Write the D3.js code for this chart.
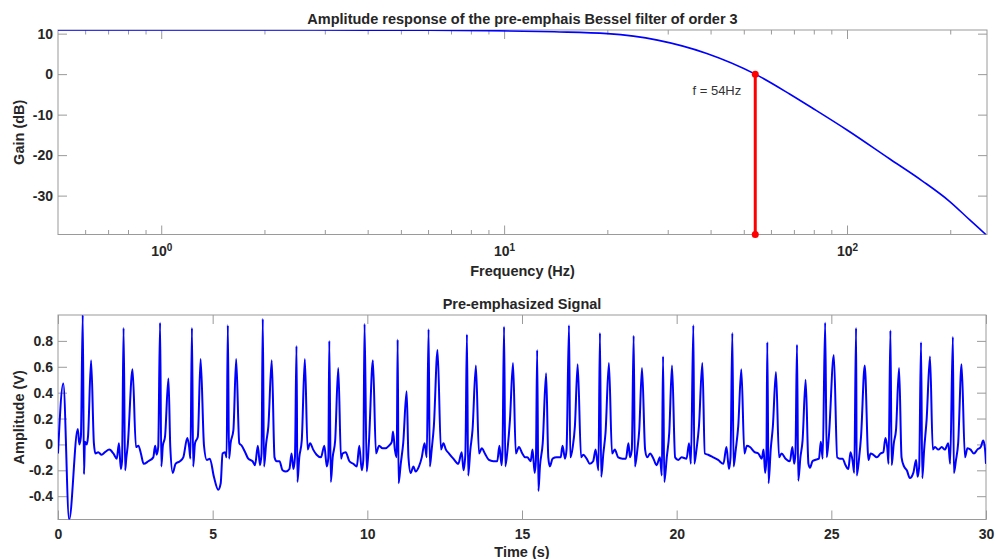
<!DOCTYPE html>
<html>
<head>
<meta charset="utf-8">
<script src="https://cdn.jsdelivr.net/npm/d3@7/dist/d3.min.js"></script>
<style>
  body { margin: 0; background: #fff; }
  svg text { font-family: "Liberation Sans", Arial, Helvetica, sans-serif; }
</style>
</head>
<body>
<div class="chart"></div>
<script>
// ---- data ----
var freqHz = [0.5, 1, 2, 4, 6, 9, 14, 20, 28, 39, 54, 68, 80, 100, 133, 166, 199, 228, 245, 254];
var gainDb = [10.9, 10.9, 10.9, 10.88, 10.85, 10.75, 10.45, 10.0, 8.4, 5.1, 0, -4.9, -8.6, -13.8, -20.9, -26.4, -31.4, -36.0, -38.4, -39.6];
var cutoffHz = 54;
var cutoffLabel = "f = 54Hz";

var timeS = [
  0, 0.17, 0.36, 0.64, 0.69, 0.74, 0.80, 0.84, 0.87, 0.93, 0.97, 1.07, 1.16, 1.21, 1.30, 1.41, 1.52, 1.66, 1.79, 1.90, 1.97, 2.03, 2.07,
  2.12, 2.17, 2.21, 2.25, 2.41, 2.52, 2.60, 2.68, 2.77, 2.92, 3.08, 3.14, 3.19, 3.24,
  3.30, 3.34, 3.39, 3.46, 3.57, 3.63, 3.71, 3.80, 3.94, 4.05, 4.18, 4.24, 4.28,
  4.33, 4.37, 4.43, 4.52, 4.61, 4.72, 4.81, 4.91, 5.04, 5.18, 5.26, 5.32, 5.40, 5.45,
  5.49, 5.53, 5.58, 5.67, 5.76, 5.86, 5.94, 6.05, 6.15, 6.29, 6.37, 6.46, 6.53, 6.58,
  6.62, 6.66, 6.73, 6.80, 6.91, 7.00, 7.07, 7.16, 7.26, 7.37, 7.48, 7.55, 7.61, 7.66,
  7.71, 7.74, 7.80, 7.88, 7.98, 8.07, 8.15, 8.25, 8.36, 8.50, 8.61, 8.69, 8.74,
  8.77, 8.82, 8.88, 8.96, 9.06, 9.15, 9.20, 9.30, 9.42, 9.55, 9.66, 9.74, 9.82, 9.87,
  9.91, 9.98, 10.05, 10.18, 10.28, 10.38, 10.49, 10.59, 10.70, 10.79, 10.83, 10.89, 10.95,
  10.98, 11.01, 11.08, 11.16, 11.27, 11.33, 11.40, 11.49, 11.56, 11.67, 11.76, 11.85, 11.92,
  11.98, 12.02, 12.08, 12.15, 12.27, 12.38, 12.46, 12.54, 12.64, 12.78, 12.94, 13.05, 13.11, 13.17,
  13.22, 13.26, 13.33, 13.40, 13.51, 13.61, 13.70, 13.80, 13.93, 14.07, 14.20, 14.27, 14.34, 14.37,
  14.42, 14.46, 14.54, 14.61, 14.71, 14.80, 14.90, 15.01, 15.10, 15.17, 15.28, 15.34, 15.41, 15.45,
  15.49, 15.53, 15.58, 15.67, 15.78, 15.85, 15.90, 15.99, 16.12, 16.25, 16.31, 16.39, 16.44,
  16.52, 16.56, 16.64, 16.71, 16.80, 16.91, 16.98, 17.09, 17.19, 17.30, 17.38, 17.47,
  17.52, 17.56, 17.63, 17.70, 17.81, 17.91, 18.00, 18.11, 18.25, 18.36, 18.44, 18.49, 18.55,
  18.61, 18.65, 18.73, 18.79, 18.88, 18.98, 19.05, 19.14, 19.25, 19.35, 19.46, 19.52,
  19.56, 19.60, 19.68, 19.76, 19.85, 19.95, 20.05, 20.16, 20.32, 20.40, 20.46,
  20.54, 20.57, 20.64, 20.72, 20.83, 20.91, 21.02, 21.18, 21.34, 21.51, 21.61, 21.69, 21.74,
  21.80, 21.84, 21.91, 21.99, 22.09, 22.19, 22.27, 22.37, 22.52, 22.64, 22.75, 22.81, 22.86, 22.90,
  22.93, 22.97, 23.04, 23.11, 23.21, 23.31, 23.39, 23.52, 23.66, 23.74, 23.80, 23.84,
  23.89, 23.93, 24.00, 24.07, 24.17, 24.26, 24.31, 24.39, 24.47, 24.60, 24.66, 24.72,
  24.80, 24.85, 24.92, 25.08, 25.19, 25.28, 25.37, 25.44, 25.55, 25.62, 25.69, 25.74,
  25.80, 25.82, 25.90, 25.96, 26.08, 26.20, 26.27, 26.36, 26.47, 26.59, 26.68, 26.75, 26.81, 26.85,
  26.91, 26.95, 27.02, 27.09, 27.19, 27.27, 27.35, 27.44, 27.54, 27.65, 27.74, 27.79, 27.84,
  27.90, 27.94, 28.00, 28.08, 28.19, 28.28, 28.35, 28.46, 28.57, 28.67, 28.78, 28.84,
  28.93, 28.96, 29.03, 29.10, 29.21, 29.32, 29.40, 29.50, 29.61, 29.72, 29.83, 29.91, 29.97, 30.0
];
var ampV = [
  -0.07, 0.47, -0.58, 0.12, 0.0, 0.06, 1.0, -0.23, 0.02, 0.0, 0.06, 0.65, 0.01, -0.07, -0.06, -0.08, -0.06, -0.04, -0.07, -0.11, 0.01, -0.19, -0.13,
  0.90, -0.20, -0.10, -0.02, 0.58, -0.02, -0.01, -0.07, -0.15, -0.13, -0.10, -0.01, -0.08, -0.02,
  0.94, -0.17, -0.01, 0.06, 0.51, -0.02, -0.22, -0.15, -0.13, -0.10, 0.05, -0.02, -0.11,
  0.90, -0.17, 0.01, 0.06, 0.66, -0.01, -0.12, -0.11, -0.25, -0.35, -0.30, -0.07, -0.06, -0.10,
  0.92, -0.11, 0.01, 0.11, 0.66, 0.01, -0.01, -0.06, -0.11, -0.13, -0.16, -0.01, -0.16, -0.07,
  0.97, -0.17, 0.01, 0.14, 0.65, -0.10, -0.13, -0.13, -0.20, -0.21, -0.19, -0.07, -0.19, -0.10,
  0.76, -0.29, -0.10, 0.03, 0.66, -0.04, 0.01, -0.04, -0.08, -0.10, -0.01, -0.17, -0.10,
  0.80, -0.29, -0.10, 0.03, 0.59, -0.11, -0.07, -0.06, -0.13, -0.15, -0.17, -0.01, -0.20, -0.12,
  0.93, -0.21, 0.01, 0.65, -0.07, -0.01, -0.03, -0.03, -0.01, 0.02, 0.10, -0.04, -0.10,
  0.81, -0.30, -0.15, 0.01, 0.41, -0.10, -0.22, -0.17, -0.21, -0.17, -0.10, 0.01, -0.10,
  0.89, -0.17, -0.04, 0.14, 0.73, -0.04, 0.01, -0.04, -0.07, -0.11, -0.15, -0.06, -0.20, -0.07,
  0.85, -0.24, -0.04, 0.11, 0.61, -0.07, -0.03, -0.07, -0.12, -0.13, -0.13, -0.01, -0.16, -0.04,
  0.91, -0.17, -0.02, 0.19, 0.63, -0.07, -0.02, -0.07, -0.10, -0.10, -0.13, -0.04, -0.22, -0.12,
  0.73, -0.36, -0.17, 0.01, 0.55, -0.10, -0.17, -0.11, -0.10, -0.10, -0.01, -0.11, -0.04,
  0.92, -0.10, -0.02, 0.14, 0.62, -0.10, -0.08, -0.11, -0.15, -0.13, -0.04, -0.20,
  0.86, -0.25, -0.07, 0.09, 0.63, -0.07, -0.04, -0.10, -0.11, -0.11, 0.01, -0.10, -0.04,
  0.84, -0.17, -0.04, 0.11, 0.59, -0.04, -0.10, -0.07, -0.11, -0.16, -0.10, -0.24,
  0.68, -0.29, -0.10, 0.09, 0.61, -0.10, -0.12, -0.10, -0.11, 0.01, -0.15,
  0.92, -0.15, -0.04, 0.14, 0.63, -0.07, -0.08, -0.10, -0.12, -0.15, -0.02, -0.19, -0.10,
  0.86, -0.17, -0.04, 0.14, 0.58, -0.07, -0.01, -0.02, -0.06, -0.07, -0.11, -0.04, -0.22, -0.12,
  0.79, -0.30, -0.04, 0.14, 0.56, -0.10, -0.07, -0.11, -0.13, -0.02, -0.15, -0.07,
  0.77, -0.28, -0.10, 0.03, 0.50, -0.15, -0.18, -0.13, -0.12, -0.11, 0.02, -0.11,
  0.94, -0.10, 0.06, 0.69, -0.10, -0.11, -0.11, -0.15, -0.19, -0.06, -0.13, -0.22,
  0.90, -0.24, -0.10, 0.06, 0.61, -0.12, -0.07, -0.08, -0.10, -0.07, -0.06, 0.05, -0.03, -0.15,
  0.88, -0.16, 0.01, 0.11, 0.59, -0.10, -0.17, -0.20, -0.26, -0.22, -0.12, -0.25, -0.17,
  0.79, -0.26, -0.04, 0.19, 0.68, -0.04, -0.02, -0.04, -0.02, -0.04, 0.01, -0.15,
  0.83, -0.22, -0.12, 0.01, 0.62, -0.10, -0.03, -0.04, -0.07, -0.04, -0.02, 0.03, -0.04, -0.15
];

var freqMajor = [1, 10, 100];
var freqMinor = [0.6, 0.7, 0.8, 0.9, 2, 3, 4, 5, 6, 7, 8, 9, 20, 30, 40, 50, 60, 70, 80, 90, 200];
var gainTicks = [10, 0, -10, -20, -30];
var timeTicks = [0, 5, 10, 15, 20, 25, 30];
var ampTicks = [-0.4, -0.2, 0, 0.2, 0.4, 0.6, 0.8];

var axisCol = "#9a9a9a", textCol = "#262626", lineCol = "#0000ff";
var tickFont = 14, labelFont = 14.5;

var svg = d3.select(".chart").append("svg")
  .attr("width", 998)
  .attr("height", 559);

// MATLAB look: inward ticks, bold labels, hyphen minus
function styleAxis(a) {
  a.select(".domain").remove();
  a.selectAll("line").attr("stroke", axisCol);
  a.selectAll("text")
    .attr("fill", textCol)
    .attr("font-size", tickFont)
    .attr("font-weight", "bold")
    .attr("font-family", null);
  return a;
}
function plain(d) { return String(d); }

// ---------- top panel: amplitude response ----------
var w1 = 929, h1 = 204.5;
var g1 = svg.append("g").attr("transform", "translate(58,30)");

var x1 = d3.scaleLog().domain([0.5, 256]).range([0, w1]);
var y1 = d3.scaleLinear().domain([-39.6, 10.9]).range([h1, 0]);

g1.append("clipPath").attr("id", "clip1")
  .append("rect").attr("width", w1).attr("height", h1);

styleAxis(g1.append("g").attr("transform", "translate(0," + h1 + ")")
  .call(d3.axisBottom(x1).tickValues(freqMinor).tickSizeInner(-4.5).tickSizeOuter(0).tickFormat("")));
styleAxis(g1.append("g")
  .call(d3.axisTop(x1).tickValues(freqMinor).tickSizeInner(-4.5).tickSizeOuter(0).tickFormat("")));

var xa1 = styleAxis(g1.append("g").attr("transform", "translate(0," + h1 + ")")
  .call(d3.axisBottom(x1).tickValues(freqMajor).tickSizeInner(-9).tickSizeOuter(0).tickPadding(12)
    .tickFormat(function () { return "10"; })));
xa1.selectAll(".tick text").each(function (d) {
  d3.select(this).append("tspan")
    .attr("dy", "-0.5em")
    .attr("font-size", 10)
    .text(Math.round(Math.log10(d)));
});
styleAxis(g1.append("g")
  .call(d3.axisTop(x1).tickValues(freqMajor).tickSizeInner(-9).tickSizeOuter(0).tickFormat("")));
styleAxis(g1.append("g")
  .call(d3.axisLeft(y1).tickValues(gainTicks).tickSizeInner(-9).tickSizeOuter(0).tickPadding(5).tickFormat(plain)));
styleAxis(g1.append("g").attr("transform", "translate(" + w1 + ",0)")
  .call(d3.axisRight(y1).tickValues(gainTicks).tickSizeInner(-9).tickSizeOuter(0).tickFormat("")));

g1.append("rect")
  .attr("width", w1).attr("height", h1)
  .attr("fill", "none").attr("stroke", axisCol).attr("stroke-width", 1);

var resp = freqHz.map(function (f, i) { return [f, gainDb[i]]; });
g1.append("path")
  .datum(resp)
  .attr("clip-path", "url(#clip1)")
  .attr("fill", "none")
  .attr("stroke", lineCol)
  .attr("stroke-width", 1.6)
  .attr("d", d3.line()
    .x(function (d) { return x1(d[0]); })
    .y(function (d) { return y1(d[1]); })
    .curve(d3.curveMonotoneX));

// cutoff marker
g1.append("line")
  .attr("x1", x1(cutoffHz)).attr("x2", x1(cutoffHz))
  .attr("y1", y1(0)).attr("y2", y1(y1.domain()[0]))
  .attr("stroke", "#ff0000").attr("stroke-width", 3);
g1.selectAll(".cut").data([0, y1.domain()[0]]).enter().append("circle")
  .attr("cx", x1(cutoffHz)).attr("cy", function (d) { return y1(d); })
  .attr("r", 3.5).attr("fill", "#ff0000");
g1.append("text")
  .attr("x", x1(cutoffHz) - 14)
  .attr("y", y1(-4.1))
  .attr("dy", "0.35em")
  .attr("text-anchor", "end")
  .attr("font-size", 13)
  .attr("fill", "#333")
  .text(cutoffLabel);

g1.append("text")
  .attr("x", w1 / 2).attr("y", -6)
  .attr("text-anchor", "middle")
  .attr("font-size", labelFont).attr("font-weight", "bold").attr("fill", textCol)
  .text("Amplitude response of the pre-emphais Bessel filter of order 3");
g1.append("text")
  .attr("x", w1 / 2).attr("y", h1 + 41)
  .attr("text-anchor", "middle")
  .attr("font-size", labelFont).attr("font-weight", "bold").attr("fill", textCol)
  .text("Frequency (Hz)");
g1.append("text")
  .attr("transform", "translate(-34," + (h1 / 2) + ") rotate(-90)")
  .attr("text-anchor", "middle")
  .attr("font-size", labelFont).attr("font-weight", "bold").attr("fill", textCol)
  .text("Gain (dB)");

// ---------- bottom panel: pre-emphasized signal ----------
var w2 = 928, h2 = 204.5;
var g2 = svg.append("g").attr("transform", "translate(58,315)");

var x2 = d3.scaleLinear().domain([0, 30]).range([0, w2]);
var y2 = d3.scaleLinear().domain([-0.58, 1.0]).range([h2, 0]);

g2.append("clipPath").attr("id", "clip2")
  .append("rect").attr("width", w2).attr("height", h2);

styleAxis(g2.append("g").attr("transform", "translate(0," + h2 + ")")
  .call(d3.axisBottom(x2).tickValues(timeTicks).tickSizeInner(-9).tickSizeOuter(0).tickPadding(9.5).tickFormat(plain)));
styleAxis(g2.append("g")
  .call(d3.axisTop(x2).tickValues(timeTicks).tickSizeInner(-9).tickSizeOuter(0).tickFormat("")));
styleAxis(g2.append("g")
  .call(d3.axisLeft(y2).tickValues(ampTicks).tickSizeInner(-9).tickSizeOuter(0).tickPadding(5)
    .tickFormat(function (d) { return d === 0 ? "0" : d.toFixed(1); })));
styleAxis(g2.append("g").attr("transform", "translate(" + w2 + ",0)")
  .call(d3.axisRight(y2).tickValues(ampTicks).tickSizeInner(-9).tickSizeOuter(0).tickFormat("")));

g2.append("rect")
  .attr("width", w2).attr("height", h2)
  .attr("fill", "none").attr("stroke", axisCol).attr("stroke-width", 1);

var sig = timeS.map(function (t, i) { return [t, ampV[i]]; });
g2.append("path")
  .datum(sig)
  .attr("clip-path", "url(#clip2)")
  .attr("fill", "none")
  .attr("stroke", lineCol)
  .attr("stroke-width", 2)
  .attr("stroke-linejoin", "round")
  .attr("d", d3.line()
    .x(function (d) { return x2(d[0]); })
    .y(function (d) { return y2(d[1]); })
    .curve(d3.curveMonotoneX));

g2.append("text")
  .attr("x", w2 / 2).attr("y", -6)
  .attr("text-anchor", "middle")
  .attr("font-size", labelFont).attr("font-weight", "bold").attr("fill", textCol)
  .text("Pre-emphasized Signal");
g2.append("text")
  .attr("x", w2 / 2).attr("y", h2 + 37.5)
  .attr("text-anchor", "middle")
  .attr("font-size", labelFont).attr("font-weight", "bold").attr("fill", textCol)
  .text("Time (s)");
g2.append("text")
  .attr("transform", "translate(-34," + (h2 / 2) + ") rotate(-90)")
  .attr("text-anchor", "middle")
  .attr("font-size", labelFont).attr("font-weight", "bold").attr("fill", textCol)
  .text("Amplitude (V)");
</script>
</body>
</html>
